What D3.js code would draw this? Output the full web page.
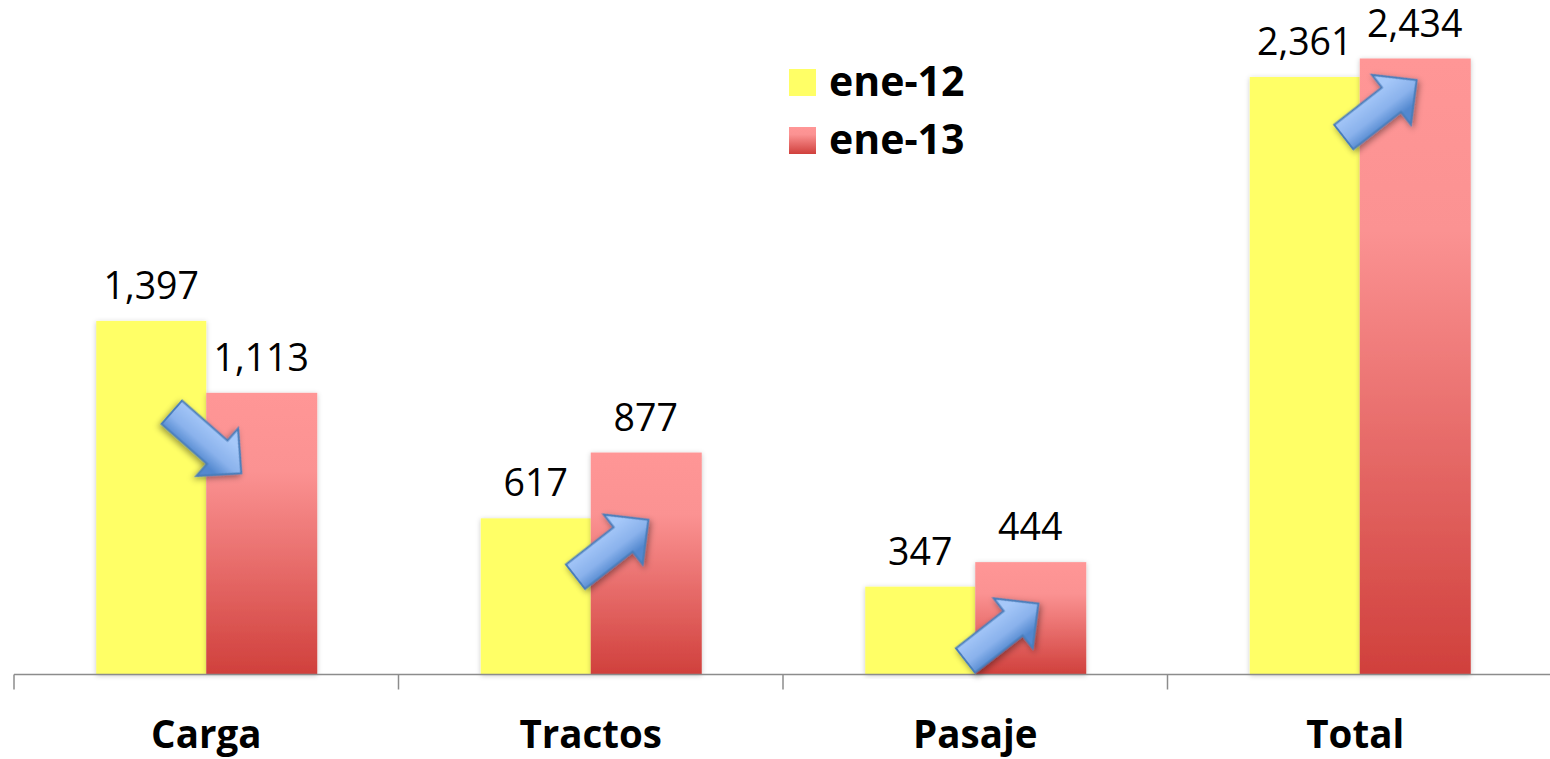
<!DOCTYPE html>
<html><head><meta charset="utf-8">
<script src="https://cdnjs.cloudflare.com/ajax/libs/d3/7.8.5/d3.min.js"></script>
<style>html,body{margin:0;padding:0;background:#fff;overflow:hidden}svg{display:block}text{font-family:"Open Sans",Lato,sans-serif;fill:#000}</style>
</head><body><div id="c"></div>
<script>
const categories = ["Carga","Tractos","Pasaje","Total"];
const seriesNames = ["ene-12","ene-13"];
const ene12 = [1397,617,347,2361];
const ene13 = [1113,877,444,2434];

const W=1550,H=759;
const svg=d3.select("#c").append("svg").attr("width",W).attr("height",H);
const defs=svg.append("defs");
const red=defs.append("linearGradient").attr("id","red").attr("x1",0).attr("y1",0).attr("x2",0).attr("y2",1);
[[0,"#ff9696"],[0.28,"#fb9292"],[1,"#d0403c"]].forEach(s=>red.append("stop").attr("offset",s[0]).attr("stop-color",s[1]));
const blue=defs.append("linearGradient").attr("id","blue").attr("x1",0).attr("y1",0).attr("x2",0).attr("y2",1);
[[0.22,"#a6c8f9"],[0.55,"#8ab2ec"],[0.78,"#5288cf"]].forEach(s=>blue.append("stop").attr("offset",s[0]).attr("stop-color",s[1]));
const sh=defs.append("filter").attr("id","barShadow").attr("x","-10%").attr("y","-5%").attr("width","120%").attr("height","110%");
sh.append("feDropShadow").attr("dx",0).attr("dy",1).attr("stdDeviation",2.5).attr("flood-color","#000").attr("flood-opacity",0.22);
const sa=defs.append("filter").attr("id","arrowShadow").attr("x","-30%").attr("y","-30%").attr("width","160%").attr("height","160%");
sa.append("feDropShadow").attr("dx",0).attr("dy",3).attr("stdDeviation",3).attr("flood-color","#000").attr("flood-opacity",0.4);

const axisY=674.5;
const x=d3.scaleBand().domain(categories).range([14,1552]);
const y=d3.scaleLinear().domain([0,2434]).range([axisY,58.5]);
const barWidths=[110,111];
const centre=c=>x(c)+x.bandwidth()/2;
const barX=(c,i)=>i?centre(c):centre(c)-barWidths[0];

const cells=seriesNames.flatMap((s,i)=>categories.map((c,j)=>({c,j,s,i,v:(i?ene13:ene12)[j]})));
const fillOf=i=>i?"url(#red)":"#ffff66";

svg.append("g").selectAll("rect").data(cells).join("rect")
  .attr("x",d=>barX(d.c,d.i)).attr("y",d=>y(d.v)).attr("width",d=>barWidths[d.i]).attr("height",d=>axisY-y(d.v))
  .attr("fill",d=>fillOf(d.i)).attr("filter","url(#barShadow)");

// axis
const axis=svg.append("g").attr("stroke","#8c8c8c").attr("stroke-width",1.5).attr("fill","none");
axis.append("line").attr("x1",14).attr("x2",1552).attr("y1",axisY).attr("y2",axisY);
axis.selectAll("line.t").data(d3.range(5)).join("line").attr("class","t")
  .attr("x1",i=>14+i*x.bandwidth()).attr("x2",i=>14+i*x.bandwidth()).attr("y1",axisY).attr("y2",axisY+15);

// category labels
svg.append("g").selectAll("text").data(categories).join("text")
  .attr("x",d=>centre(d)-(d==="Total"?4.5:0)).attr("y",748).attr("text-anchor","middle")
  .attr("font-size",38.5).attr("font-weight",700).text(d=>d);

// value labels
const fmt=d3.format(",");
svg.append("g").selectAll("text").data(cells).join("text")
  .attr("x",d=>barX(d.c,d.i)+barWidths[d.i]/2-(d.i?0.5:0)).attr("y",d=>y(d.v)-22)
  .attr("text-anchor","middle").attr("font-size",37.5).text(d=>fmt(d.v));

// legend
const lg=svg.append("g").selectAll("g").data(seriesNames).join("g");
lg.append("rect").attr("x",789).attr("y",(d,i)=>69+i*58).attr("width",27).attr("height",27).attr("fill",(d,i)=>fillOf(i));
lg.append("text").attr("x",829).attr("y",(d,i)=>96+i*58).attr("font-size",41).attr("font-weight",700).text(d=>d);

// change arrows: direction follows the sign of the change between series
const arrowPts=(L,sw,hw,hl)=>[[0,-sw/2],[L-hl,-sw/2],[L-hl,-hw/2],[L,0],[L-hl,hw/2],[L-hl,sw/2],[0,sw/2]];
const tails={Carga:[-34.45,412.3],Tractos:[-15.25,576.7],Pasaje:[-9.75,660.5],Total:[-16,137]};
const arrows=categories.map((c,j)=>({c,ang:ene13[j]<ene12[j]?41.3:-38}));
svg.append("g").selectAll("polygon").data(arrows).join("polygon")
  .attr("points",arrowPts(92.5,31,63,32).map(p=>p.join(",")).join(" "))
  .attr("transform",d=>`translate(${centre(d.c)+tails[d.c][0]},${tails[d.c][1]}) rotate(${d.ang})`)
  .attr("fill","url(#blue)").attr("stroke","#4a7ebb").attr("stroke-width",2).attr("stroke-linejoin","miter").attr("filter","url(#arrowShadow)");
</script></body></html>
